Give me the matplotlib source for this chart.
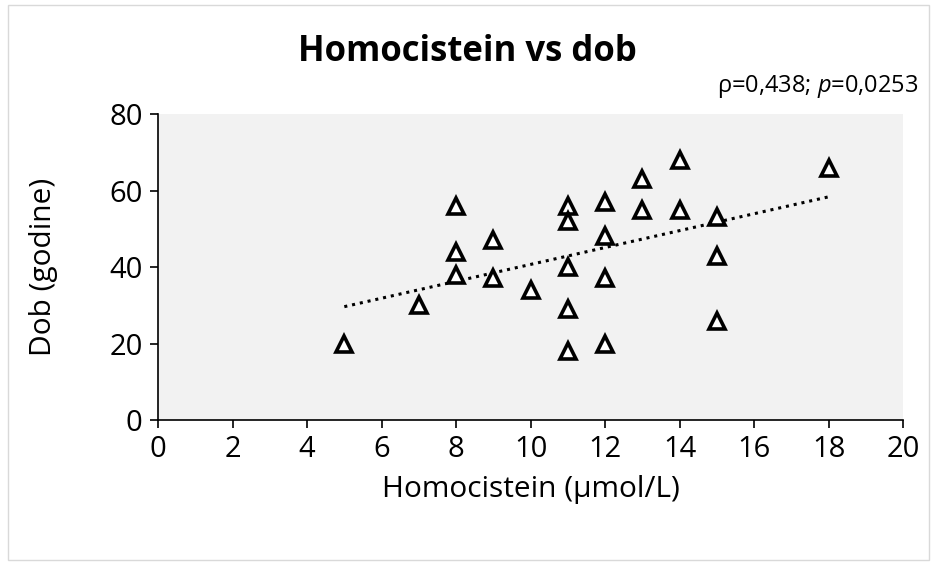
import numpy as np
import matplotlib
matplotlib.use("Agg")
import matplotlib.pyplot as plt
from matplotlib.patches import Rectangle

plt.rcParams["font.family"] = ["Open Sans", "DejaVu Sans"]
plt.rcParams["mathtext.fontset"] = "custom"
plt.rcParams["mathtext.it"] = "Open Sans:italic"
plt.rcParams["mathtext.rm"] = "Open Sans"

# Homocistein (umol/L) vs age (years)
homocistein = [5, 7, 8, 8, 8, 9, 9, 10, 11, 11, 11, 11, 11,
               12, 12, 12, 12, 13, 13, 14, 14, 15, 15, 15, 18]
dob = [20, 30, 56, 44, 38, 47, 37, 34, 56, 52, 40, 29, 18,
       57, 48, 37, 20, 63, 55, 68, 55, 53, 43, 26, 66]

x_ticks = list(range(0, 21, 2))
y_ticks = list(range(0, 81, 20))

fig = plt.figure(figsize=(9.35, 5.63), dpi=100)
fig.patches.append(Rectangle((0.009, 0.006), 0.985, 0.985, transform=fig.transFigure,
                             fill=False, edgecolor="#d9d9d9", linewidth=1))
ax = fig.add_axes([0.169, 0.254, 0.797, 0.5435])
ax.set_facecolor("#f2f2f2")

# linear trendline
k, b = np.polyfit(homocistein, dob, 1)
xs = np.array([min(homocistein), max(homocistein)])
ax.plot(xs, k * xs + b, color="black", linestyle=(0, (1, 1.6)), linewidth=2.2, zorder=2)

ax.plot(homocistein, dob, linestyle="none", marker="^", markersize=11,
        markerfacecolor="white", markeredgecolor="black", markeredgewidth=2.6, zorder=3)

ax.set_xlim(0, 20)
ax.set_ylim(0, 80)
ax.set_xticks(x_ticks)
ax.set_yticks(y_ticks)
ax.tick_params(axis="both", labelsize=21, length=6, width=1.2, direction="out", pad=5)
for side in ["top", "right"]:
    ax.spines[side].set_visible(False)
for side in ["left", "bottom"]:
    ax.spines[side].set_linewidth(1.2)

ax.set_xlabel("Homocistein (µmol/L)", fontsize=21.5, labelpad=8)
ax.set_ylabel("Dob (godine)", fontsize=21.5, labelpad=37)

fig.text(0.5, 0.907, "Homocistein vs dob", ha="center", va="center",
         fontsize=25, fontweight="bold")
fig.text(0.983, 0.846, r"ρ=0,438; $p$=0,0253", ha="right", va="center", fontsize=17)

fig.savefig("out.png", dpi=100)
